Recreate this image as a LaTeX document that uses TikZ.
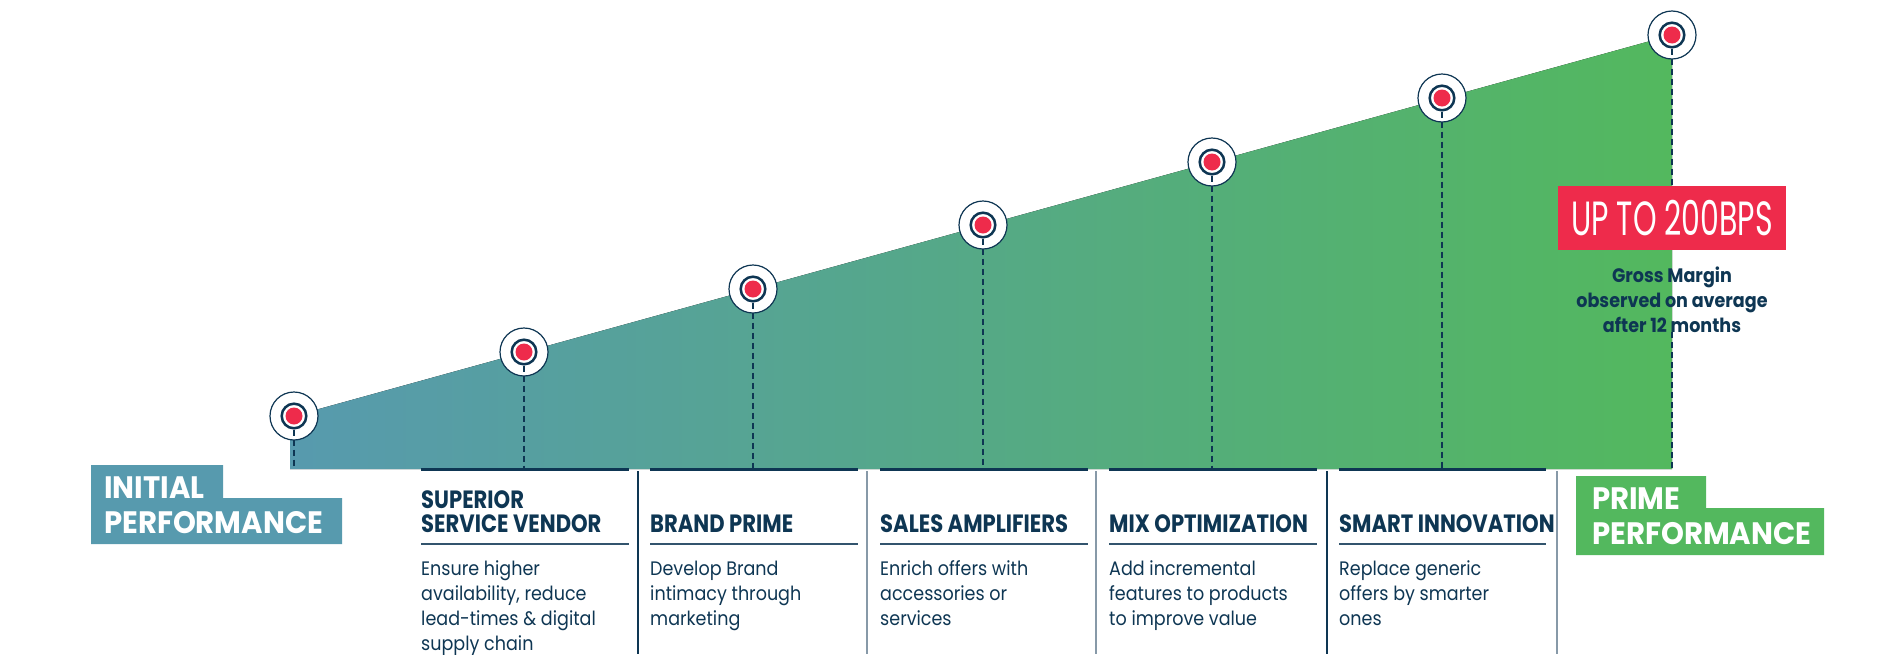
\documentclass[tikz,border=0pt]{standalone}
\usepackage{fontspec}
\setmainfont{Poppins}
\newfontfamily\bodyfont[FakeStretch=0.9]{Poppins}
\newfontfamily\headfont[FakeStretch=0.845]{Poppins}
\newfontfamily\labelfont[FakeStretch=0.94]{Poppins}
\newfontfamily\bpsfont[FakeStretch=0.625]{Poppins}
\usepackage{xcolor}
\usetikzlibrary{positioning,calc}
\definecolor{navy}{HTML}{0E3653}
\definecolor{slate}{HTML}{8799A8}
\definecolor{tealblue}{HTML}{579AAE}
\definecolor{primegreen}{HTML}{53B85E}
\definecolor{alertred}{HTML}{EE2B4B}

\begin{document}
\begin{tikzpicture}[
    x=1pt, y=-1pt,
    ringnode/.style={circle, draw=navy, line width=1.2pt, fill=white, minimum size=48pt, inner sep=0pt},
    dotnode/.style={circle, draw=navy, line width=2.5pt, fill=white, minimum size=24.6pt, inner sep=0pt,
        path picture={\fill[alertred] (path picture bounding box.center) circle (8.5pt);}},
    dashline/.style={navy, line width=2pt, dash pattern=on 6pt off 4pt},
    barline/.style={navy, line width=3pt},
    ruleline/.style={navy!85, line width=1.4pt},
    sepline/.style={slate, line width=2pt},
    titlenode/.style={anchor=base west, inner sep=0pt, align=left, text=navy, font=\headfont\bfseries\fontsize{25}{24}\selectfont},
    bodynode/.style={anchor=base west, inner sep=0pt, align=left, text=navy, font=\bodyfont\fontsize{19.5}{25}\selectfont},
    labelnode/.style={anchor=base west, inner sep=0pt, align=left, text=white, font=\labelfont\bfseries\fontsize{31}{35}\selectfont},
    bpsnode/.style={fill=alertred, text=white, inner sep=0pt, minimum width=228pt, minimum height=64pt, font=\bpsfont\fontsize{48}{48}\selectfont},
    gmnode/.style={align=center, inner sep=0pt, text=navy, font=\bodyfont\bfseries\fontsize{19.5}{25}\selectfont},
    ]
    \useasboundingbox (0,0) rectangle (1891,654);

    %Area
    \fill[left color=tealblue, right color=primegreen] (290,417) -- (1672,35) -- (1672,469) -- (290,469) -- cycle;
    \draw[barline] (421,469.5)  -- (629,469.5);
    \draw[barline] (650,469.5)  -- (858,469.5);
    \draw[barline] (880,469.5)  -- (1088,469.5);
    \draw[barline] (1109,469.5) -- (1317,469.5);
    \draw[barline] (1339,469.5) -- (1546,469.5);

    %Columns
    \draw[sepline, navy] (638,471)  -- (638,654);
    \draw[sepline]       (867,471)  -- (867,654);
    \draw[sepline]       (1096,471) -- (1096,654);
    \draw[sepline, navy] (1327,471) -- (1327,654);
    \draw[sepline]       (1557,471) -- (1557,654);
    \draw[ruleline] (421,544)  -- (629,544);
    \draw[ruleline] (650,544)  -- (858,544);
    \draw[ruleline] (880,544)  -- (1088,544);
    \draw[ruleline] (1109,544) -- (1317,544);
    \draw[ruleline] (1339,544) -- (1546,544);

    %Start and end labels
    \fill[tealblue] (91,465) -- (223,465) -- (223,498) -- (342,498) -- (342,544) -- (91,544) -- cycle;
    \fill[primegreen] (1576,476) -- (1706,476) -- (1706,508) -- (1824,508) -- (1824,555) -- (1576,555) -- cycle;
    \node[labelnode] (initial) at (104,533)  {INITIAL\\PERFORMANCE};
    \node[labelnode] (prime)   at (1592,544) {PRIME\\PERFORMANCE};

    %Markers
    \node[ringnode] (ring1) at (294,416)  {};
    \node[ringnode] (ring2) at (524,352)  {};
    \node[ringnode] (ring3) at (753,289)  {};
    \node[ringnode] (ring4) at (983,225)  {};
    \node[ringnode] (ring5) at (1212,162) {};
    \node[ringnode] (ring6) at (1442,98)  {};
    \node[ringnode] (ring7) at (1672,35)  {};
    \node[dotnode] (m1) at (ring1) {};
    \node[dotnode] (m2) at (ring2) {};
    \node[dotnode] (m3) at (ring3) {};
    \node[dotnode] (m4) at (ring4) {};
    \node[dotnode] (m5) at (ring5) {};
    \node[dotnode] (m6) at (ring6) {};
    \node[dotnode] (m7) at (ring7) {};
    \coordinate (b1) at (294,469);
    \coordinate (b2) at (524,469);
    \coordinate (b3) at (753,469);
    \coordinate (b4) at (983,469);
    \coordinate (b5) at (1212,469);
    \coordinate (b6) at (1442,469);
    \coordinate (b7) at (1672,469);

    % Result box
    \node[bpsnode] (bps) at (1672,218) {UP TO 200BPS};
    \node[gmnode]  (gm)  [below=16pt of bps] {Gross Margin\\observed on average\\after 12 months};

    %Lines
    \draw[dashline] (m1) -- (b1);
    \draw[dashline] (m2) -- (b2);
    \draw[dashline] (m3) -- (b3);
    \draw[dashline] (m4) -- (b4);
    \draw[dashline] (m5) -- (b5);
    \draw[dashline] (m6) -- (b6);
    \draw[dashline] (m7) -- (bps);
    \draw[dashline] (gm) -- (b7);

    % Text labels (base = last line)
    \node[titlenode] (title1) at (421,532)  {SUPERIOR\\SERVICE VENDOR};
    \node[titlenode] (title2) at (650,532)  {BRAND PRIME};
    \node[titlenode] (title3) at (880,532)  {SALES AMPLIFIERS};
    \node[titlenode] (title4) at (1109,532) {MIX OPTIMIZATION};
    \node[titlenode] (title5) at (1339,532) {SMART INNOVATION};
    \node[bodynode]  (text1)  at (421,650)  {Ensure higher\\availability, reduce\\lead-times \& digital\\supply chain};
    \node[bodynode]  (text2)  at (650,625)  {Develop Brand\\intimacy through\\marketing};
    \node[bodynode]  (text3)  at (880,625)  {Enrich offers with\\accessories or\\services};
    \node[bodynode]  (text4)  at (1109,625) {Add incremental\\features to products\\to improve value};
    \node[bodynode]  (text5)  at (1339,625) {Replace generic\\offers by smarter\\ones};
\end{tikzpicture}
\end{document}
